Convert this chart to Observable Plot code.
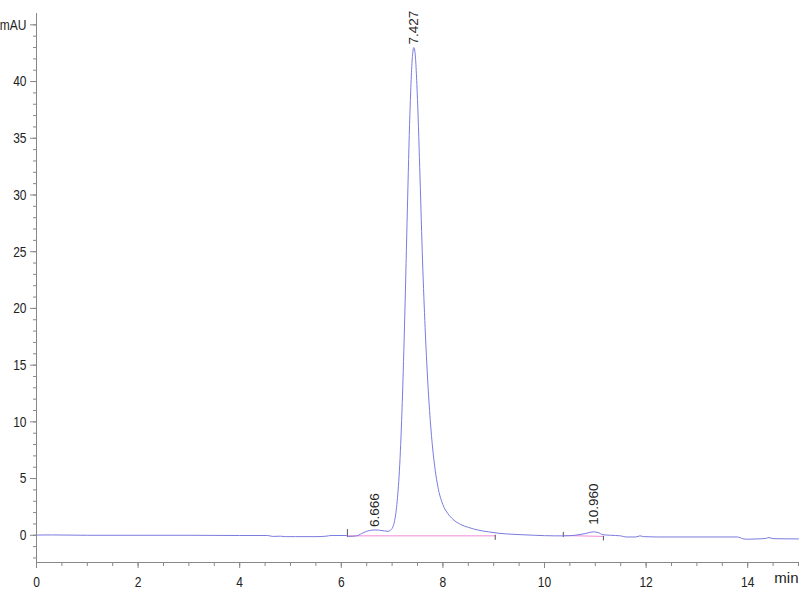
<!DOCTYPE html>
<html><head><meta charset="utf-8">
<script src="https://cdn.jsdelivr.net/npm/d3@7"></script>
<script src="https://cdn.jsdelivr.net/npm/@observablehq/plot@0.6"></script>
<style>body{margin:0;background:#fff}</style>
</head><body><div id="chart"></div>
<script>
// Retention time (min) and detector signal (mAU)
const times = [0, 0.3, 1, 2, 3, 4, 4.55, 4.65, 4.8, 4.9, 5.1, 5.5, 5.7, 5.8, 6.1, 6.15, 6.3, 6.4, 6.5, 6.6, 6.666, 6.75, 6.85, 6.92, 6.97, 7.0,
  7.05, 7.1, 7.15, 7.2, 7.25, 7.3, 7.35, 7.4, 7.427, 7.45, 7.5, 7.55, 7.6, 7.65, 7.7, 7.75, 7.8, 7.85, 7.9, 8.0, 8.1, 8.2, 8.35, 8.5, 8.7, 8.9, 9.1, 9.4, 9.8,
  10.2, 10.4, 10.6, 10.8, 10.96, 11.05, 11.15, 11.3, 11.5, 11.6, 11.8, 11.88, 11.95, 12.2, 13.0, 13.8, 13.9, 14.0, 14.2, 14.35, 14.42, 14.5, 15.0];
const signal = [0.02, 0.03, 0.0, 0.0, 0.0, -0.02, -0.02, -0.1, -0.08, -0.12, -0.12, -0.12, -0.08, -0.02, -0.02, -0.1, -0.05, 0.15, 0.35, 0.45, 0.47, 0.45, 0.38, 0.35, 0.45, 0.6,
  1.3, 3.0, 6.2, 11.7, 19.4, 28.6, 37.1, 42.2, 43.0, 42.6, 38.4, 31.5, 24.1, 18.3, 13.7, 10.2, 7.6, 5.7, 4.3, 2.7, 1.9, 1.4, 0.95, 0.7, 0.45, 0.3, 0.18, 0.08, 0.0,
  -0.05, -0.05, 0.0, 0.15, 0.3, 0.25, 0.05, 0.0, -0.05, -0.15, -0.15, -0.05, -0.12, -0.15, -0.15, -0.15, -0.3, -0.35, -0.32, -0.28, -0.2, -0.3, -0.32];

// Peak annotations
const peakTimes = [6.666, 7.427, 10.960];
const peakHeights = [0.47, 43.0, 0.3];
const peakLabels = ["6.666", "7.427", "10.960"];
const peakOffsets = [-3, -3, -7];

// Integration baselines (start/end of each integrated region)
const baseGroup = ["a", "a", "a", "b", "b"];
const baseTimes = [6.12, 7.0, 9.03, 10.37, 11.16];
const baseValues = [-0.05, -0.05, -0.05, -0.02, -0.1];

// Integration event markers
const markTimes = [6.12, 9.03, 10.37, 11.16];
const markLow = [-0.2, -0.45, -0.2, -0.5];
const markHigh = [0.5, 0.0, 0.25, -0.1];

// Tick values
const xMajor = [0, 2, 4, 6, 8, 10, 12, 14];
const xMinor = d3.range(0, 15.01, 0.5);
const yMajor = [0, 5, 10, 15, 20, 25, 30, 35, 40, 45];
const yMinor = d3.range(-2, 46, 1);

const rows = times.map((t, i) => ({t, v: signal[i]}));
const base = baseTimes.map((t, i) => ({t, v: baseValues[i], g: baseGroup[i]}));
const marks = markTimes.map((t, i) => ({t, y1: markLow[i], y2: markHigh[i]}));
const peaks = peakTimes.map((t, i) => ({t, v: peakHeights[i], label: peakLabels[i], dy: peakOffsets[i]}));

const tickFont = "'Liberation Sans', Arial, sans-serif";

const chart = Plot.plot({
  width: 800,
  height: 600,
  marginLeft: 36,
  marginRight: 2,
  marginTop: 13,
  marginBottom: 38,
  x: {domain: [0, 15], label: null},
  y: {domain: [-2.4, 46], label: null},
  style: {background: "white", fontFamily: tickFont},
  marks: [
    Plot.axisX(xMinor, {tickSize: 4, tickFormat: () => "", stroke: "#888", label: null}),
    Plot.axisX(xMajor, {tickSize: 6, tickPadding: 8, fontSize: 15, stroke: "#888", fill: "#222", label: null, fontFamily: tickFont}),
    Plot.axisY(yMinor, {tickSize: 3, tickFormat: () => "", stroke: "#888", label: null}),
    Plot.axisY(yMajor, {tickSize: 6, tickPadding: 4, fontSize: 15, stroke: "#888", fill: "#222", label: null, fontFamily: tickFont,
      tickFormat: d => d === 45 ? "mAU" : String(d)}),
    Plot.ruleX([0], {stroke: "#888"}),
    Plot.ruleY([-2.4], {stroke: "#888"}),
    Plot.text(["min"], {frameAnchor: "bottom-right", dy: 20, textAnchor: "end", fontSize: 15, fill: "#222", fontFamily: tickFont, ariaLabel: "min label"}),
    Plot.line(base, {x: "t", y: "v", z: "g", stroke: "#f28ad8", strokeWidth: 1}),
    Plot.ruleX(marks, {x: "t", y1: "y1", y2: "y2", stroke: "#555", strokeWidth: 1}),
    Plot.line(rows, {x: "t", y: "v", stroke: "#7b7be0", strokeWidth: 1, curve: "monotone-x"}),
    ...peaks.map(p => Plot.text([p], {x: "t", y: "v", text: "label", rotate: -90, textAnchor: "start", dy: p.dy, fontSize: 13.5, fill: "#222", fontFamily: "'Liberation Sans', Arial, sans-serif"}))
  ]
});
document.getElementById("chart").append(chart);

// Narrow the axis lettering to match the condensed instrument font
d3.select(chart)
  .selectAll("g[aria-label='x-axis tick label'] text, g[aria-label='y-axis tick label'] text, g[aria-label='min label'] text")
  .each(function () {
    const L = this.getComputedTextLength();
    if (L > 0) {
      this.setAttribute("textLength", (L * 0.8).toFixed(2));
      this.setAttribute("lengthAdjust", "spacingAndGlyphs");
    }
  });
</script>
</body></html>
